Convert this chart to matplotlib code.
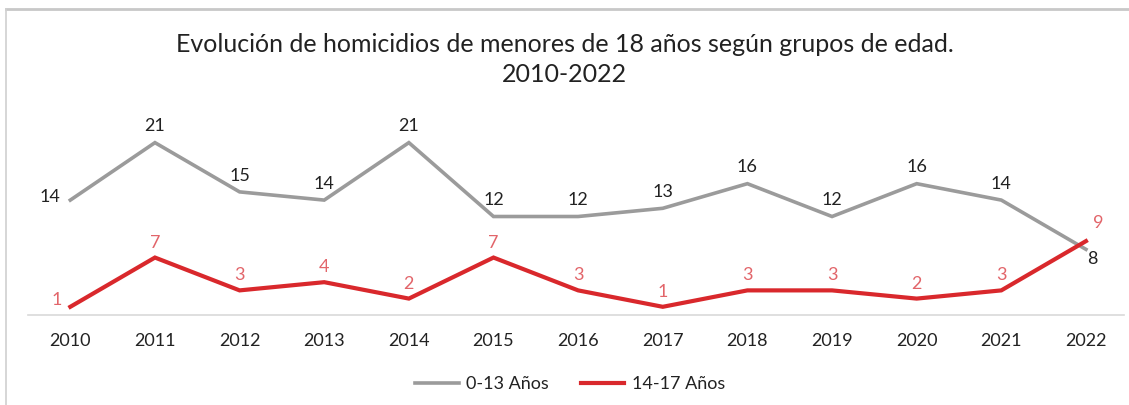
import matplotlib
matplotlib.use("Agg")
import matplotlib.pyplot as plt
from matplotlib.lines import Line2D

years = ["2010", "2011", "2012", "2013", "2014", "2015", "2016",
         "2017", "2018", "2019", "2020", "2021", "2022"]
age_0_13 = [14, 21, 15, 14, 21, 12, 12, 13, 16, 12, 16, 14, 8]
age_14_17 = [1, 7, 3, 4, 2, 7, 3, 1, 3, 3, 2, 3, 9]

title = "Evolución de homicidios de menores de 18 años según grupos de edad.\n2010-2022"
labels = ["0-13 Años", "14-17 Años"]

gray = "#9b9b9b"
red = "#d9282c"
red_txt = "#e2656a"
txt = "#222222"

plt.rcParams["font.family"] = ["Lato", "DejaVu Sans"]

fig = plt.figure(figsize=(11.29, 4.05), dpi=100)
ax = fig.add_axes([0.0248, 0.2222, 0.9708, 0.531])

x = list(range(len(years)))
ax.plot(x, age_0_13, color=gray, lw=2.6, solid_joinstyle="miter", zorder=2)
ax.plot(x, age_14_17, color=red, lw=3.0, solid_joinstyle="miter", zorder=3)

n = len(years)
for i, v in enumerate(age_0_13):
    if i == 0:
        off, ha, va = (-7, 2), "right", "center"
    elif i == n - 1:
        off, ha, va = (1, -7), "left", "center"
    else:
        off, ha, va = (0, 6), "center", "bottom"
    ax.annotate(str(v), (i, v), xytext=off, textcoords="offset points",
                ha=ha, va=va, fontsize=13, color=txt)

for i, v in enumerate(age_14_17):
    if i == 0:
        off, ha, va = (-6, 5), "right", "center"
    elif i == n - 1:
        off, ha, va = (5, 13), "left", "center"
    else:
        off, ha, va = (0, 5), "center", "bottom"
    ax.annotate(str(v), (i, v), xytext=off, textcoords="offset points",
                ha=ha, va=va, fontsize=13, color=red_txt)

ax.set_xlim(-0.5, 12.45)
ax.set_ylim(0, 26.2)
ax.set_xticks(x)
ax.set_xticklabels(years, fontsize=13, color=txt)
ax.tick_params(axis="x", length=0, pad=13)
ax.set_yticks([])
for s in ["top", "right", "left"]:
    ax.spines[s].set_visible(False)
ax.spines["bottom"].set_color("#d9d9d9")
ax.spines["bottom"].set_linewidth(1.2)

fig.text(0.5, 0.853, title, ha="center", va="center", fontsize=18,
         color=txt, linespacing=1.32)

handles = [Line2D([], [], color=gray, lw=2.6), Line2D([], [], color=red, lw=3.0)]
fig.legend(handles, labels, loc="center", bbox_to_anchor=(0.505, 0.052), ncol=2,
           frameon=False, fontsize=13, handlelength=2.4, handletextpad=0.4,
           columnspacing=1.8, labelcolor=txt)

# frame edges
fig.add_artist(Line2D([0.0053, 1.0], [0.978, 0.978], color="#c8c8c8", lw=2,
                      transform=fig.transFigure))
fig.add_artist(Line2D([0.0053, 0.0053], [0.0, 0.978], color="#d0d0d0", lw=1.2,
                      transform=fig.transFigure))

fig.savefig("out.png", dpi=100, facecolor="white")
